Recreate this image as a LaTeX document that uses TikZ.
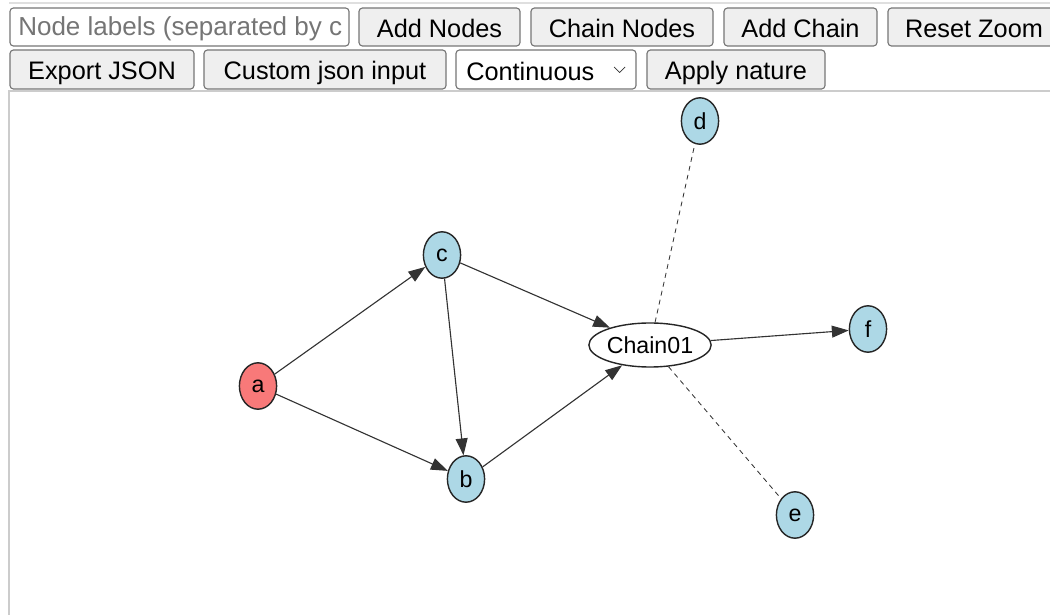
\documentclass[tikz,border=0pt]{standalone}
\usepackage{fontspec}
\setmainfont{Liberation Sans}
\usetikzlibrary{arrows.meta,shapes.geometric}

\definecolor{btnfill}{RGB}{239,239,239}
\definecolor{btnline}{RGB}{118,118,118}
\definecolor{hint}{RGB}{117,117,117}
\definecolor{nodeblue}{RGB}{173,216,230}
\definecolor{nodered}{RGB}{248,121,121}
\definecolor{edgecol}{RGB}{51,51,51}

\begin{document}
\begin{tikzpicture}[x=0.025cm, y=-0.025cm,
  btn/.style={draw=btnline, fill=btnfill, rounded corners=2.5pt, line width=0.8pt,
    inner sep=0pt, minimum height=0.95cm, text height=17pt, text depth=2.5pt,
    font=\fontsize{18}{20}\selectfont},
  var/.style={ellipse, draw=black!85, fill=nodeblue, line width=1pt, inner sep=0pt,
    minimum width=0.93cm, minimum height=1.16cm, font=\fontsize{16.5}{18}\selectfont},
  chain/.style={var, fill=white, minimum width=2.78cm, minimum height=1.1cm},
  link/.style={draw=edgecol, line width=0.8pt, -{Triangle[length=12pt,width=8.5pt]}},
  member/.style={draw=edgecol, line width=0.6pt, dash pattern=on 3.5pt off 3pt}]
  \useasboundingbox (0,0) rectangle (1050,615);

  % page frame
  \draw[gray!25, line width=0.8pt] (9,3) -- (1050,3);
  \draw[gray!40, line width=1.2pt] (1050,91) -- (9,91) -- (9,615);

  % toolbar, first row
  \node[btn, fill=white, minimum width=8.475cm] (labels) at (179.5,27) {};
  \begin{scope}
    \clip (12,10) rectangle (343,44);
    \node[anchor=base west, inner sep=0pt, text=hint, font=\fontsize{18.5}{20}\selectfont]
      (hinttext) at (18,36) {Node labels (separated by c};
  \end{scope}
  \node[btn, minimum width=4.025cm] (addnodes) at (439.5,27) {Add Nodes};
  \node[btn, minimum width=4.55cm] (chainnodes) at (622,27) {Chain Nodes};
  \node[btn, minimum width=3.825cm] (addchain) at (800.5,27) {Add Chain};
  \node[btn, minimum width=4.3cm] (resetzoom) at (974,27) {Reset Zoom};

  % toolbar, second row
  \node[btn, minimum width=4.6cm, minimum height=0.975cm] (export) at (102,69.5) {Export JSON};
  \node[btn, minimum width=6.05cm, minimum height=0.975cm] (custom) at (325,69.5) {Custom json input};
  \node[btn, fill=white, minimum width=4.5cm, minimum height=0.975cm] (nature) at (546,69.5) {};
  \node[anchor=base west, inner sep=0pt, font=\fontsize{18}{20}\selectfont]
    (naturetext) at (466,80.5) {Continuous};
  \draw[black!80, line width=0.5pt] (614,67) -- (619.5,72.5) -- (625,67);
  \node[btn, minimum width=4.45cm, minimum height=0.975cm] (apply) at (736,69.5) {Apply nature};

  % graph
  \node[var, fill=nodered] (a) at (258,386) {a};
  \node[var] (c) at (442,255) {c};
  \node[var] (b) at (466,479) {b};
  \node[var] (d) at (700,121) {d};
  \node[var] (e) at (795,515) {e};
  \node[var] (f) at (868,329) {f};
  \node[chain] (ch) at (650,345) {Chain01};

  \draw[link] (a) -- (c);
  \draw[link] (a) -- (b);
  \draw[link] (c) -- (b);
  \draw[link] (c) -- (ch);
  \draw[link] (b) -- (ch);
  \draw[link] (ch) -- (f);

  % chain members
  \draw[member] (ch) -- (d);
  \draw[member] (ch) -- (e);

\end{tikzpicture}
\end{document}
